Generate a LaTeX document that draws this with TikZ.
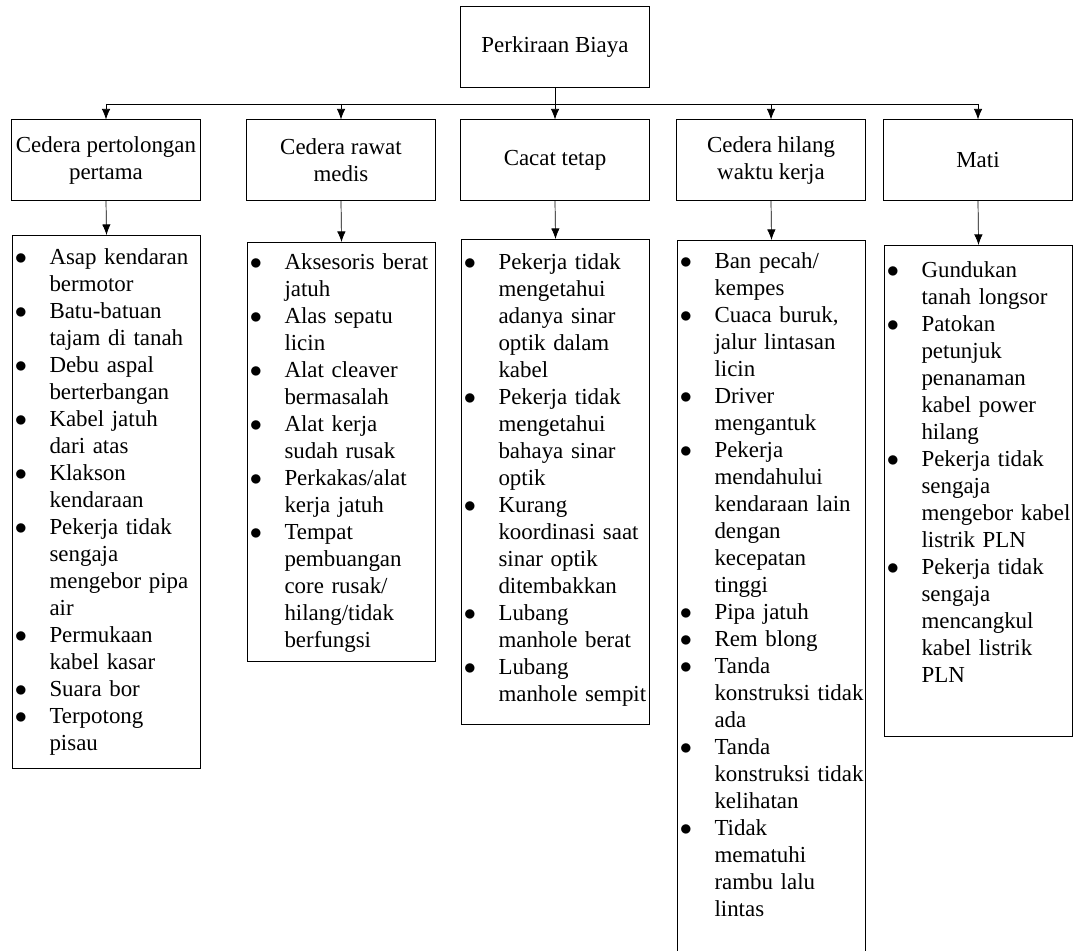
\documentclass[tikz,border=0pt]{standalone}
\usepackage{fontspec}
\setmainfont{Liberation Serif}
\usepackage{tikz}
\usetikzlibrary{arrows.meta}
\newcommand{\bul}[1]{\noindent\hangindent=0.925cm\hangafter=1\makebox[0.925cm][l]{\hspace{0.06cm}$\bullet$}#1\par}

\begin{document}
\begin{tikzpicture}[x=0.025cm,y=-0.025cm,
		font=\fontsize{16.3}{19.2}\selectfont,
		box/.style={draw,line width=0.7pt,minimum width=4.7cm,minimum height=2cm,inner sep=0pt,align=center},
		listbox/.style={draw,line width=0.7pt,anchor=north west,inner sep=0pt,text width=4.7cm,align=left},
		arr/.style={line width=0.5pt,-{Latex[length=7.5pt,width=6pt]}}]
		\useasboundingbox (0,0) rectangle (1073,951);
		\clip (0,0) rectangle (1073,951);
		\node[box] (biaya) at (555,47) {Perkiraan Biaya};
		\node[box] (pp) at (106,160) {Cedera pertolongan\\ pertama};
		\node[box] (rm) at (341,160) {Cedera rawat\\ medis};
		\node[box] (ct) at (555,160) {Cacat tetap};
		\node[box] (hk) at (771,160) {Cedera hilang\\ waktu kerja};
		\node[box] (mati) at (978,160) {Mati};
		\coordinate (bus) at (0,104);
		\draw[line width=0.5pt] (biaya.south) -- (biaya.south |- bus);
		\draw[line width=0.5pt] (pp.north |- bus) -- (mati.north |- bus);
		\foreach \n in {pp,rm,ct,hk,mati} \draw[arr] (\n.north |- bus) -- (\n.north);
	\node[listbox,text height=0.725cm,text depth=12.6cm] (lpp) at (12,235) {%
		\bul{Asap kendaran\newline bermotor}
		\bul{Batu-batuan\newline tajam di tanah}
		\bul{Debu aspal\newline berterbangan}
		\bul{Kabel jatuh\newline dari atas}
		\bul{Klakson\newline kendaraan}
		\bul{Pekerja tidak\newline sengaja\newline mengebor pipa\newline air}
		\bul{Permukaan\newline kabel kasar}
		\bul{Suara bor}
		\bul{Terpotong\newline pisau}};
	\node[listbox,text height=0.675cm,text depth=9.8cm] (lrm) at (247,242) {%
		\bul{Aksesoris berat\newline jatuh}
		\bul{Alas sepatu\newline licin}
		\bul{Alat cleaver\newline bermasalah}
		\bul{Alat kerja\newline sudah rusak}
		\bul{Perkakas/alat\newline kerja jatuh}
		\bul{Tempat\newline pembuangan\newline core rusak/\newline hilang/tidak\newline berfungsi}};
	\node[listbox,text height=0.75cm,text depth=11.375cm] (lct) at (461,239) {%
		\bul{Pekerja tidak\newline mengetahui\newline adanya sinar\newline optik dalam\newline kabel}
		\bul{Pekerja tidak\newline mengetahui\newline bahaya sinar\newline optik}
		\bul{Kurang\newline koordinasi saat\newline sinar optik\newline ditembakkan}
		\bul{Lubang\newline manhole berat}
		\bul{Lubang\newline manhole sempit}};
	\node[listbox,text height=0.7cm,text depth=17.175cm] (lhk) at (677,240) {%
		\bul{Ban pecah/\newline kempes}
		\bul{Cuaca buruk,\newline jalur lintasan\newline licin}
		\bul{Driver\newline mengantuk}
		\bul{Pekerja\newline mendahului\newline kendaraan lain\newline dengan\newline kecepatan\newline tinggi}
		\bul{Pipa jatuh}
		\bul{Rem blong}
		\bul{Tanda\newline konstruksi tidak\newline ada}
		\bul{Tanda\newline konstruksi tidak\newline kelihatan}
		\bul{Tidak\newline mematuhi\newline rambu lalu\newline lintas}};
	\node[listbox,text height=0.8cm,text depth=11.475cm] (lmati) at (884,245) {%
		\bul{Gundukan\newline tanah longsor}
		\bul{Patokan\newline petunjuk\newline penanaman\newline kabel power\newline hilang}
		\bul{Pekerja tidak\newline sengaja\newline mengebor kabel\newline listrik PLN}
		\bul{Pekerja tidak\newline sengaja\newline mencangkul\newline kabel listrik\newline PLN}};
		\foreach \n in {pp,rm,ct,hk,mati} \draw[arr] (\n.south) -- (l\n.north);
\end{tikzpicture}
\end{document}
